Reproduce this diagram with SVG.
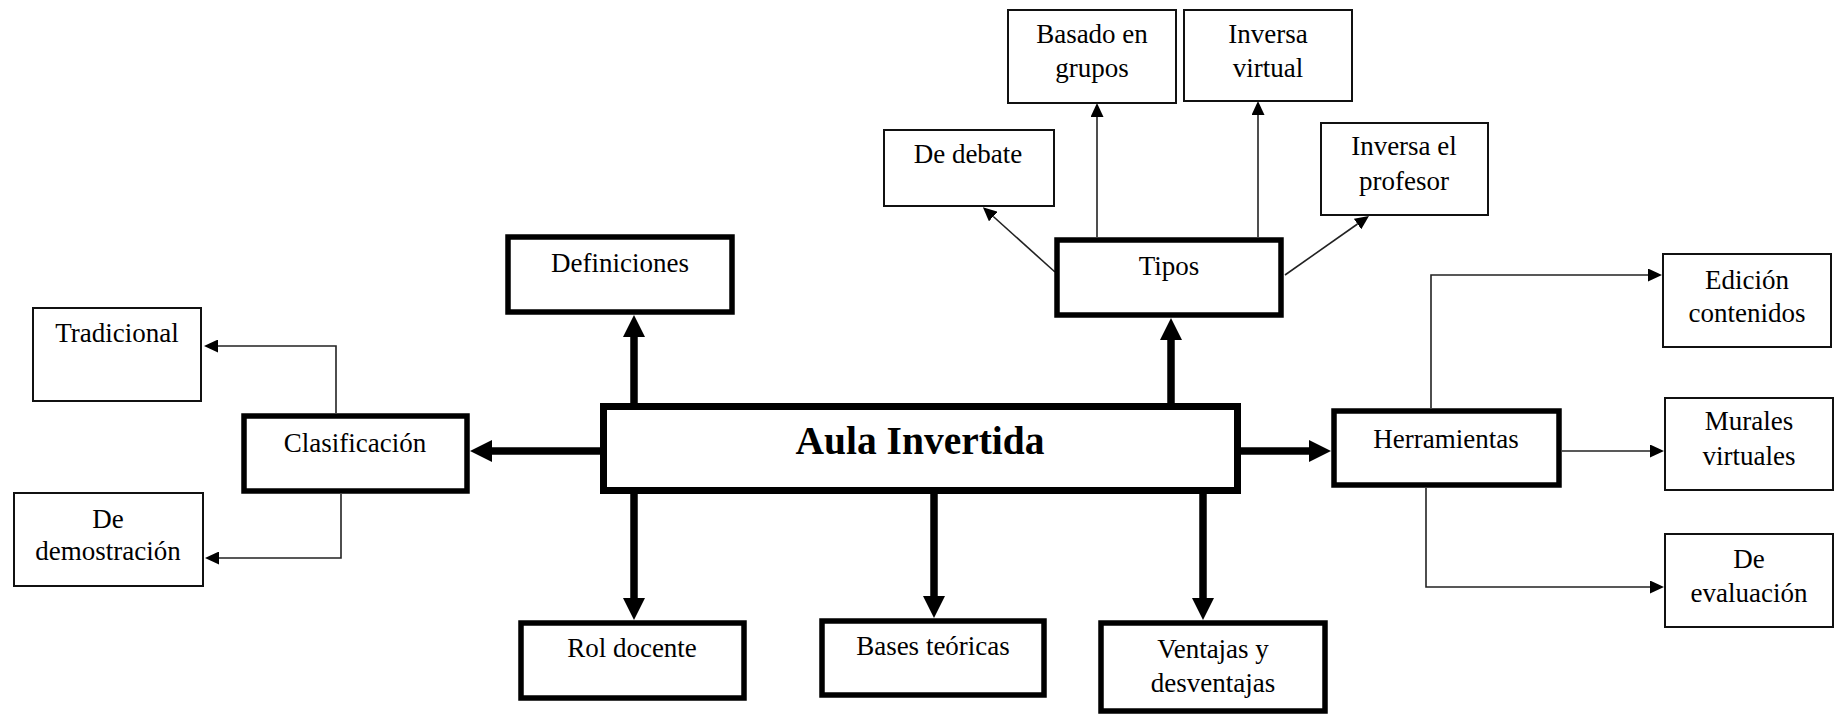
<svg xmlns="http://www.w3.org/2000/svg" width="1835" height="714" viewBox="0 0 1835 714">
<style>
.thick{fill:#fff;stroke:#000;stroke-width:5.5}
.thin{fill:#fff;stroke:#111;stroke-width:2}
text{font-family:"Liberation Serif","Times New Roman",serif;font-size:27px;fill:#000;text-anchor:middle}
.title{font-size:39.5px;font-weight:bold}
.ct{fill:none;stroke:#000;stroke-width:7.5;marker-end:url(#hk)}
.cn{fill:none;stroke:#222;stroke-width:1.6;marker-end:url(#hn)}
</style>
<defs>
<marker id="hk" markerUnits="userSpaceOnUse" viewBox="0 -11 22 22" markerWidth="22" markerHeight="22" refX="0" refY="0" orient="auto"><path d="M0,-11 L22,0 L0,11 z" fill="#000"/></marker>
<marker id="hn" markerUnits="userSpaceOnUse" viewBox="0 -6.5 14 13" markerWidth="14" markerHeight="13" refX="0" refY="0" orient="auto"><path d="M0,-6.5 L14,0 L0,6.5 z" fill="#000"/></marker>
</defs>
<g id="connectors">
<path class="ct" d="M600,451 H492"/>
<path class="ct" d="M1241,451 H1309"/>
<path class="ct" d="M634,403 V337"/>
<path class="ct" d="M1171,403 V340"/>
<path class="ct" d="M634,494 V598"/>
<path class="ct" d="M934,494 V596"/>
<path class="ct" d="M1203,494 V598"/>
<path class="cn" d="M336,413 V346 H218"/>
<path class="cn" d="M341,494 V558 H219"/>
<path class="cn" d="M1055,272 L993.3,216.5"/>
<path class="cn" d="M1097,237 V117"/>
<path class="cn" d="M1258,237 V115"/>
<path class="cn" d="M1285,275 L1357.5,224"/>
<path class="cn" d="M1431,408 V275 H1648"/>
<path class="cn" d="M1562,451 H1650"/>
<path class="cn" d="M1426,488 V587 H1650"/>
</g>
<g id="aula"><rect class="thick" style="stroke-width:7" x="603.5" y="406.5" width="634" height="84"/><text class="title" x="920" y="454">Aula Invertida</text></g>
<g id="clasificacion"><rect class="thick" x="244" y="416" width="223" height="75"/><text x="355" y="452">Clasificación</text></g>
<g id="definiciones"><rect class="thick" x="508" y="237" width="224" height="75"/><text x="620" y="272">Definiciones</text></g>
<g id="tipos"><rect class="thick" x="1057" y="240" width="224" height="75"/><text x="1169" y="275">Tipos</text></g>
<g id="herramientas"><rect class="thick" x="1334" y="411" width="225" height="74"/><text x="1446" y="448">Herramientas</text></g>
<g id="rol"><rect class="thick" x="521" y="623" width="223" height="75"/><text x="632" y="657">Rol docente</text></g>
<g id="bases"><rect class="thick" x="822" y="621" width="222" height="74"/><text x="933" y="655">Bases teóricas</text></g>
<g id="ventajas"><rect class="thick" x="1101" y="623" width="224" height="88"/><text x="1213" y="658">Ventajas y</text><text x="1213" y="692">desventajas</text></g>
<g id="tradicional"><rect class="thin" x="33" y="308" width="168" height="93"/><text x="117" y="342">Tradicional</text></g>
<g id="demostracion"><rect class="thin" x="14" y="493" width="189" height="93"/><text x="108" y="528">De</text><text x="108" y="560">demostración</text></g>
<g id="debate"><rect class="thin" x="884" y="130" width="170" height="76"/><text x="968" y="163">De debate</text></g>
<g id="basado"><rect class="thin" x="1008" y="10" width="168" height="93"/><text x="1092" y="43">Basado en</text><text x="1092" y="77">grupos</text></g>
<g id="inversa-virtual"><rect class="thin" x="1184" y="10" width="168" height="91"/><text x="1268" y="43">Inversa</text><text x="1268" y="77">virtual</text></g>
<g id="inversa-profesor"><rect class="thin" x="1321" y="123" width="167" height="92"/><text x="1404" y="155">Inversa el</text><text x="1404" y="190">profesor</text></g>
<g id="edicion"><rect class="thin" x="1663" y="254" width="168" height="93"/><text x="1747" y="289">Edición</text><text x="1747" y="322">contenidos</text></g>
<g id="murales"><rect class="thin" x="1665" y="398" width="168" height="92"/><text x="1749" y="430">Murales</text><text x="1749" y="465">virtuales</text></g>
<g id="evaluacion"><rect class="thin" x="1665" y="534" width="168" height="93"/><text x="1749" y="568">De</text><text x="1749" y="602">evaluación</text></g>
</svg>
